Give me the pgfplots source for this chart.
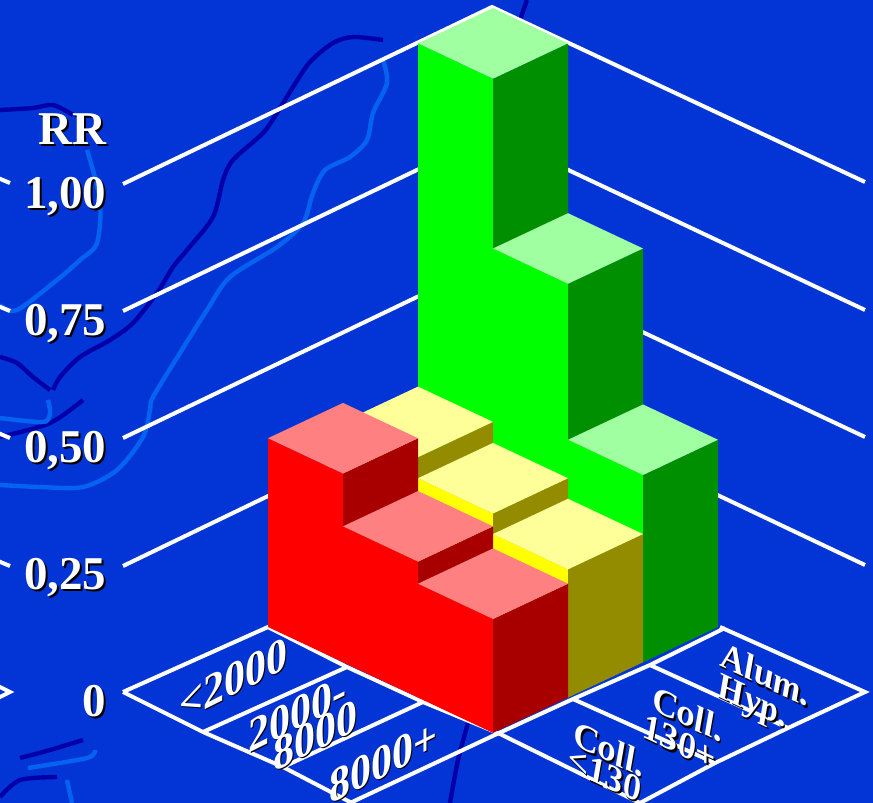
\documentclass[border=0pt]{standalone}
\usepackage{pgfplots}
\pgfplotsset{compat=1.18}
\usepackage{fontspec}
\setmainfont{Liberation Serif}
\definecolor{bgblue}{HTML}{0335D6}
\definecolor{mapdark}{HTML}{0000A8}
\definecolor{maplight}{HTML}{0662F0}
\definecolor{redF}{HTML}{FF0000}\definecolor{redS}{HTML}{A80000}\definecolor{redT}{HTML}{FF8080}
\definecolor{yelF}{HTML}{FFFF00}\definecolor{yelS}{HTML}{948C00}\definecolor{yelT}{HTML}{FFFF99}
\definecolor{greF}{HTML}{00FF00}\definecolor{greS}{HTML}{008F00}\definecolor{greT}{HTML}{A0FFA0}

% one block of the 3-D bar chart: x0, x1, y0, y1, height, colour stem
\newcommand\block[6]{%
  \addplot3[draw=none,fill=#6F,forget plot] coordinates {(#1,#3,0)(#2,#3,0)(#2,#3,#5)(#1,#3,#5)(#1,#3,0)};
  \addplot3[draw=none,fill=#6S,forget plot] coordinates {(#2,#3,0)(#2,#4,0)(#2,#4,#5)(#2,#3,#5)(#2,#3,0)};
  \addplot3[draw=none,fill=#6T,forget plot] coordinates {(#1,#3,#5)(#2,#3,#5)(#2,#4,#5)(#1,#4,#5)(#1,#3,#5)};
}
% white text with a small dark drop shadow
\newcommand\shadowed[5][]{%
  \node[black,anchor=#4,inner sep=0pt,#1] at ({#2pt+2pt},{803pt-#3pt-2pt}) {#5};
  \node[white,anchor=#4,inner sep=0pt,#1] at ({#2pt},{803pt-#3pt}) {#5};
}
% sheared label lying on the floor of the chart: x, y, slant, vertical scale, font, text
\newcommand\floorlabel[6]{%
  \begin{scope}[shift={({#1pt},{803pt-#2pt})},yslant=#3,yscale=#4]
    \node[transform shape,black,inner sep=0pt] at (1.4pt,-1.4pt) {#5 #6};
    \node[transform shape,white,inner sep=0pt] at (0,0) {#5 #6};
  \end{scope}
}
\newcommand\rowfont{\fontsize{42}{42}\selectfont\bfseries}
\newcommand\colfont{\fontsize{35}{35}\selectfont\bfseries\itshape}
\pgfplotsset{
  darkcoast/.style={mapdark,line width=4.4pt,smooth,no markers,forget plot},
  lightcoast/.style={maplight,line width=4.4pt,smooth,no markers,forget plot},
  gridline/.style={white,line width=4pt,no markers,forget plot},
}
\begin{document}
\begin{tikzpicture}
\path[use as bounding box,clip] (0,0) rectangle (873pt,803pt);
\fill[bgblue] (0,0) rectangle (873pt,803pt);

% backdrop, wall grid and floor grid, in a plane measured from the top left
\begin{axis}[at={(0,0)},anchor=south west,scale only axis,width=873pt,height=803pt,
  xmin=0,xmax=873,ymin=0,ymax=803,y dir=reverse,hide axis,clip=true]
  % coast outlines
  \addplot[darkcoast] coordinates {(383,40)(353,37)(333,43)(310,62)(293,87)(277,113)(263,133)(233,160)(223,180)(213,217)(187,250)(173,267)(157,293)(133,323)(110,340)(80,357)(60,377)(53,390)};
  \addplot[darkcoast] coordinates {(0,110)(33,108)(53,105)(73,115)};
  \addplot[darkcoast] coordinates {(0,357)(17,363)(33,377)(50,390)};
  \addplot[darkcoast] coordinates {(83,400)(50,423)(0,437)};
  \addplot[darkcoast] coordinates {(20,758)(50,750)(83,740)};
  \addplot[darkcoast] coordinates {(0,797)(20,780)(57,777)};
  \addplot[darkcoast] coordinates {(468,723)(458,760)(450,803)};
  \addplot[darkcoast] coordinates {(527,0)(520,20)};
  \addplot[lightcoast] coordinates {(383,60)(387,83)(373,113)(367,140)(350,157)(325,170)(313,193)(303,223)(277,247)(230,277)(207,310)(180,353)(153,397)(150,410)(143,437)(117,470)(83,487)(40,487)(0,485)};
  \addplot[lightcoast] coordinates {(87,150)(100,200)(97,243)(80,260)(57,280)(17,310)(0,305)};
  \addplot[lightcoast] coordinates {(48,400)(50,413)(43,422)(0,418)};
  \addplot[lightcoast] coordinates {(28,768)(87,758)(95,750)};
  \addplot[lightcoast] coordinates {(67,780)(72,803)};
  % wall lines at each RR level
  \addplot[gridline] coordinates {(123,184)(492,7)(865,182)};
  \addplot[gridline] coordinates {(123,311)(492,134)(865,310)};
  \addplot[gridline] coordinates {(123,438)(492,261)(865,437)};
  \addplot[gridline] coordinates {(123,566)(492,388)(865,565)};
  % the same lines wrapping round the left edge
  \addplot[gridline] coordinates {(-2,178)(10,183)};
  \addplot[gridline] coordinates {(-2,306)(10,311)};
  \addplot[gridline] coordinates {(-2,433)(10,438)};
  \addplot[gridline] coordinates {(-2,561)(10,566)};
  \addplot[gridline] coordinates {(-2,686)(10,692)(-2,698)};
  % floor outline and category rows
  \addplot[gridline] coordinates {(123,692)(268,627)(347,667)(423,702)(498,733)(640,803)};
  \addplot[gridline] coordinates {(123,692)(203,732)(283,767)(352,803)};
  \addplot[gridline] coordinates {(203,732)(347,667)};
  \addplot[gridline] coordinates {(283,767)(423,702)};
  \addplot[gridline] coordinates {(350,803)(499,733)(573,699)(650,665)(725,628)};
  \addplot[gridline] coordinates {(573,699)(715,763)};
  \addplot[gridline] coordinates {(650,665)(788,728)};
  \addplot[gridline] coordinates {(720,627)(865,692)(788,728)(715,763)(640,803)};
\end{axis}

% risk ratio by dose (rows) and exposure (columns)
\begin{axis}[at={(268pt,176pt)},anchor=origin,hide axis,clip=false,
  x={(75pt,-35.3pt)},y={(75pt,35.3pt)},z={(0pt,513pt)},
  xmin=0,xmax=3,ymin=0,ymax=3,zmin=0,zmax=1]
  \block{0}{1}{2}{3}{1.000}{gre}
  \block{1}{2}{2}{3}{0.669}{gre}
  \block{2}{3}{2}{3}{0.365}{gre}
  \block{0}{1}{1}{2}{0.331}{yel}
  \block{1}{2}{1}{2}{0.290}{yel}
  \block{2}{3}{1}{2}{0.250}{yel}
  \block{0}{1}{0}{1}{0.368}{red}
  \block{1}{2}{0}{1}{0.265}{red}
  \block{2}{3}{0}{1}{0.222}{red}
\end{axis}

\begin{scope}
  \def\big{\fontsize{47}{47}\selectfont\bfseries}
  \shadowed{107}{145}{base east}{\big RR}
  \shadowed{106.5}{209}{base east}{\big 1,00}
  \shadowed{106.5}{336}{base east}{\big 0,75}
  \shadowed{106.5}{463}{base east}{\big 0,50}
  \shadowed{106.5}{590}{base east}{\big 0,25}
  \shadowed{106.5}{717}{base east}{\big 0}
\end{scope}

\floorlabel{228}{682}{0.5}{1.15}{\rowfont}{<2000}
\floorlabel{292}{716}{0.5}{1.15}{\rowfont}{2000-}
\floorlabel{310}{738}{0.5}{1.15}{\rowfont}{8000}
\floorlabel{378}{764}{0.5}{1.15}{\rowfont}{8000+}
\floorlabel{761}{672}{-0.47}{1.1}{\colfont}{Alum.}
\floorlabel{748}{702}{-0.47}{1.1}{\colfont}{Hyp.}
\floorlabel{684}{712}{-0.47}{1.1}{\colfont}{Coll.}
\floorlabel{675}{740}{-0.47}{1.1}{\colfont}{130+}
\floorlabel{605}{747}{-0.47}{1.1}{\colfont}{Coll.}
\floorlabel{600}{772}{-0.47}{1.1}{\colfont}{<130}
\end{tikzpicture}
\end{document}
